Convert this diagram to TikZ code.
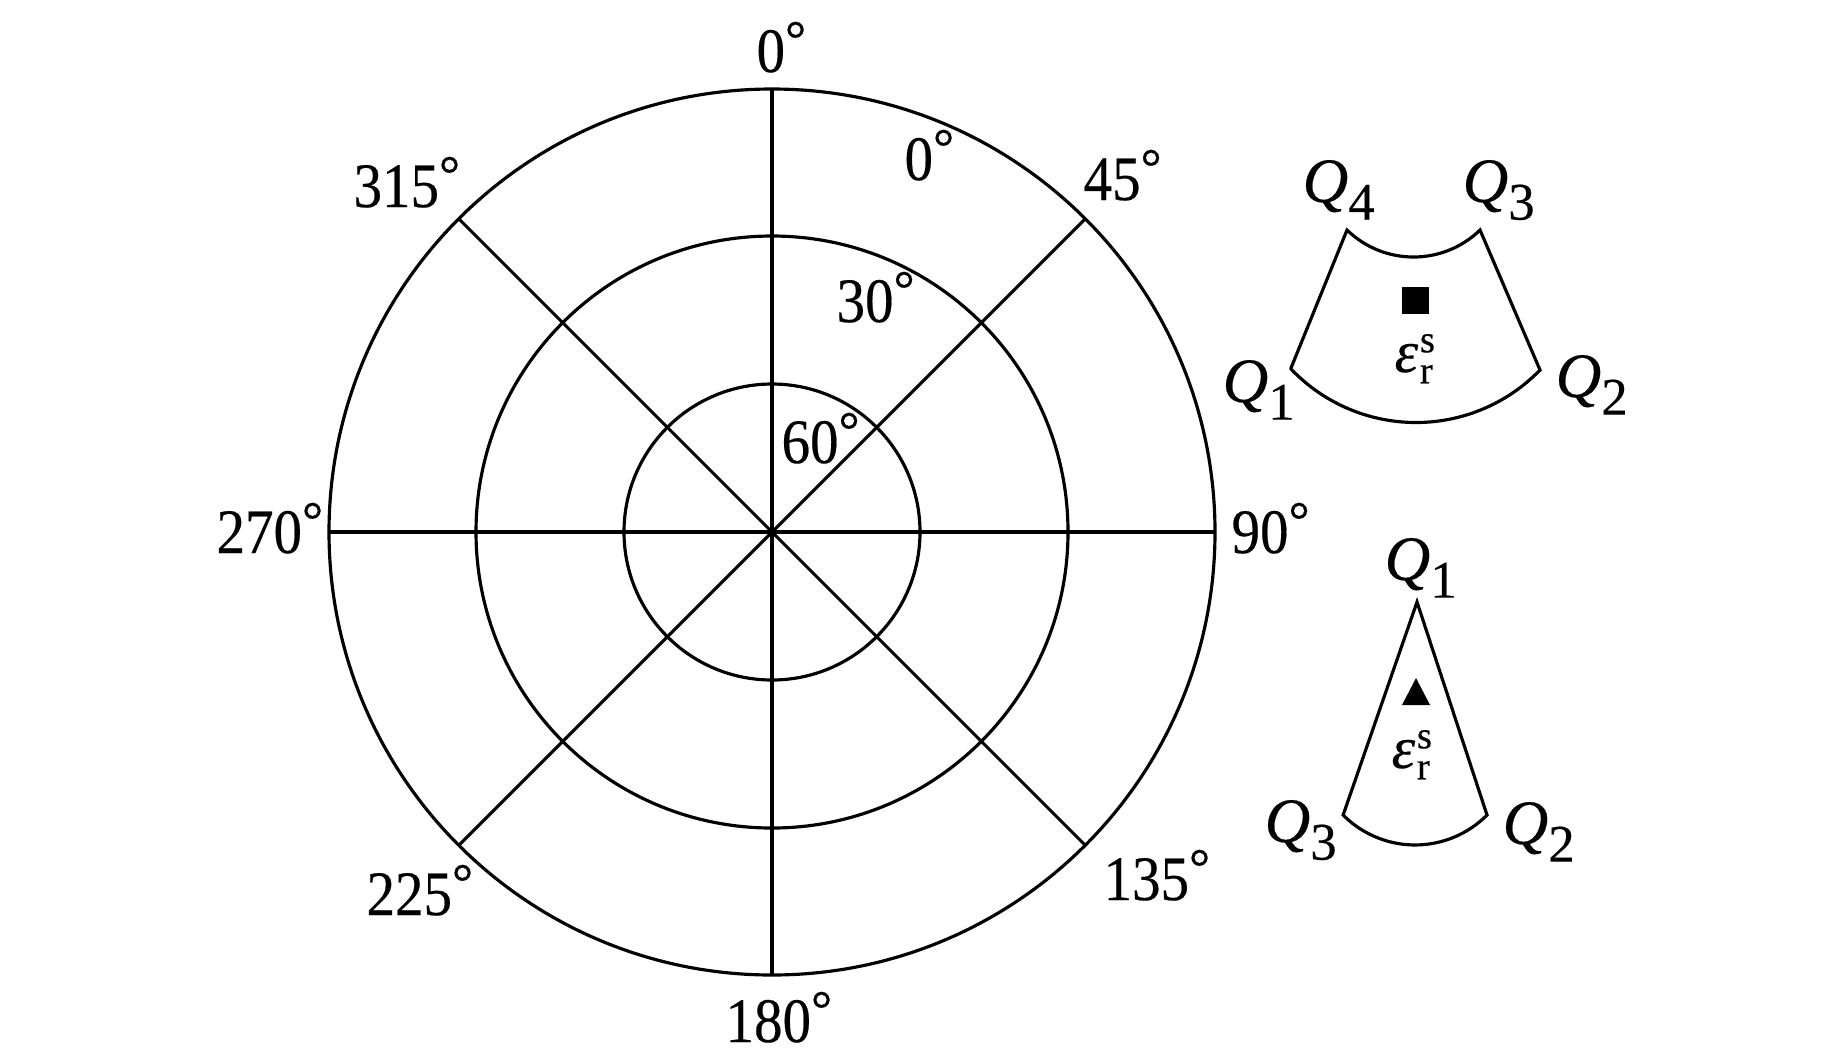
\documentclass[tikz,border=0pt]{standalone}
\usepackage{fontspec}
\setmainfont{Liberation Serif}[UprightFeatures={FakeBold=0.35},ItalicFeatures={FakeBold=0.35}]
\usepackage{graphicx}
\newcommand\degl[1]{\scalebox{0.9}[1]{#1}\raisebox{4.3pt}{\fontsize{15}{15}\selectfont °}}
\newcommand\qlab[1]{\textit{Q}\raisebox{-5pt}{\fontsize{15}{15}\selectfont #1}}
\newcommand\epsl{\textit{ε}\kern0.5pt\rlap{\raisebox{5.6pt}{\fontsize{11}{11}\selectfont s}}\raisebox{-3.2pt}{\fontsize{11}{11}\selectfont r}}
\begin{document}
\begin{tikzpicture}[x=0.01cm,y=0.01cm,line width=0.9pt,
  deglab/.style={anchor=base west,inner sep=0pt,font=\fontsize{18}{20}\selectfont},
  qlabel/.style={anchor=base west,inner sep=0pt,font=\fontsize{18}{20}\selectfont},
  epslab/.style={anchor=base west,inner sep=0pt,font=\fontsize{17}{20}\selectfont}]
\useasboundingbox (0,0) rectangle (1843,-1063);
% polar chart
\coordinate (O) at (772,-532);
\foreach \r in {148,296,443} \draw (O) circle[radius=\r];
\foreach \a in {0,45,90,135} \draw ([shift={(\a:443)}]O) -- ([shift={(\a+180:443)}]O);
% angle labels
\node[deglab] (l0)   at (755,-72)   {\degl{0}};
\node[deglab] (l315) at (352,-207)  {\degl{315}};
\node[deglab] (l45)  at (1082,-200) {\degl{45}};
\node[deglab] (li0)  at (903,-180)  {\degl{0}};
\node[deglab] (l30)  at (835,-322)  {\degl{30}};
\node[deglab] (l60)  at (780,-463)  {\degl{60}};
\node[deglab] (l270) at (215,-553)  {\degl{270}};
\node[deglab] (l90)  at (1230,-553) {\degl{90}};
\node[deglab] (l225) at (365,-915)  {\degl{225}};
\node[deglab] (l135) at (1102,-900) {\degl{135}};
\node[deglab] (l180) at (724,-1042) {\degl{180}};
% annular sector shape
\coordinate (A1) at (1291,-368);
\coordinate (A4) at (1347,-230);
\coordinate (A3) at (1480,-230);
\coordinate (A2) at (1540,-370);
\draw[line join=miter] (A1) -- (A4) arc[start angle=225.8,end angle=314.2,radius=95.4] -- (A2)
   arc[start angle=315.9,end angle=223.6,radius=172.7] -- cycle;
\node[fill=black,inner sep=0pt,minimum size=0.27cm] (sq) at (1415,-300) {};
\node[epslab] (eps1) at (1393,-372) {\epsl};
\node[qlabel] (qa4) at (1301,-202) {\qlab{4}};
\node[qlabel] (qa3) at (1461,-202) {\qlab{3}};
\node[qlabel] (qa1) at (1221,-402) {\qlab{1}};
\node[qlabel] (qa2) at (1554,-397) {\qlab{2}};
% cone shape
\coordinate (B1) at (1417,-602);
\coordinate (B2) at (1487,-815);
\coordinate (B3) at (1343,-815);
\draw[line join=miter] (B1) -- (B2) arc[start angle=315.2,end angle=224.8,radius=101.4] -- cycle;
\fill (1402,-705) -- (1430,-705) -- (1416,-678) -- cycle;
\node[epslab] (eps2) at (1390,-768) {\epsl};
\node[qlabel] (qb1) at (1383,-580) {\qlab{1}};
\node[qlabel] (qb3) at (1263,-842) {\qlab{3}};
\node[qlabel] (qb2) at (1501,-844) {\qlab{2}};
\end{tikzpicture}
\end{document}
